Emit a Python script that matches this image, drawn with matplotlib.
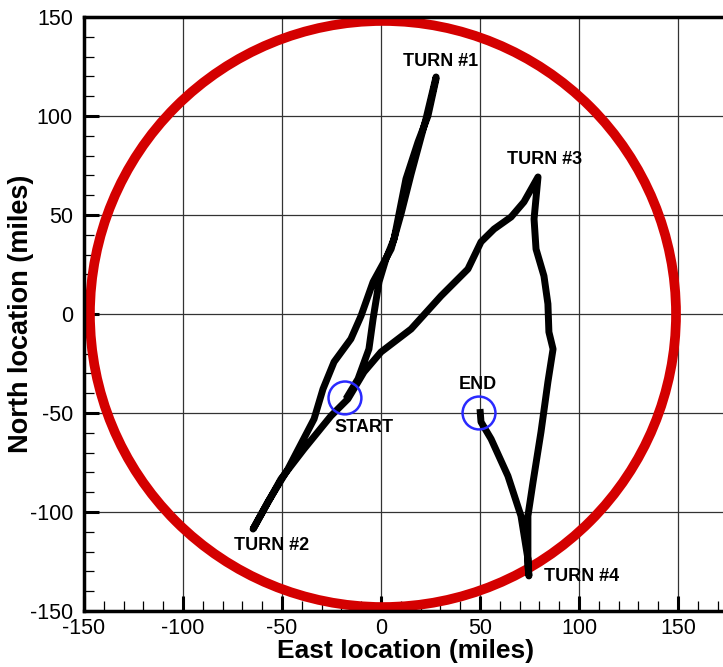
import matplotlib
matplotlib.use("Agg")
import matplotlib.pyplot as plt
from matplotlib.patches import Circle
from matplotlib.ticker import MultipleLocator

plt.rcParams['font.family'] = ['Liberation Sans', 'DejaVu Sans']
plt.rcParams['axes.unicode_minus'] = False

# Flight track (east, north) in miles
track_east = [-17.7, -11.6, -6.1, -4.0, -1.0, 2.5, 6.6, 8.6, 12.6, 18.7, 23.7, 27.8,
              27.8, 22.7, 15.2, 10.1, 5.1, -4.0, -10.1, -15.2, -23.7, -29.3, -33.8, -47.0, -57.1, -64.6,
              -64.6, -50.5, -38.9, -25.3, -16.7, -8.6, 0.0, 15.2, 30.3, 43.9, 50.5, 57.1, 65.7, 72.2, 79.3,
              77.3, 78.3, 82.3, 84.3, 84.8, 86.9, 84.3, 80.8, 76.8, 74.2, 74.2, 74.7,
              74.2, 70.7, 64.1, 55.6, 50.5, 50.0]
track_north = [-42.9, -32.8, -17.7, -2.5, 16.2, 27.8, 37.9, 48.0, 68.2, 86.9, 100.0, 118.7,
               119.7, 98.5, 70.7, 50.5, 32.8, 16.2, -1.0, -12.6, -24.2, -37.9, -53.0, -78.3, -94.9, -108.6,
               -108.6, -83.3, -68.2, -51.5, -42.9, -29.3, -19.2, -7.6, 9.1, 22.7, 36.4, 42.9, 49.0, 56.6, 69.2,
               48.0, 32.8, 19.2, 5.1, -9.1, -17.7, -34.3, -59.6, -84.8, -102.0, -127.3, -132.3,
               -123.7, -102.0, -81.8, -63.1, -54.5, -48.0]

# Boundary circle
boundary_center = (1.0, 0.0)
boundary_radius = 148.0

# Marker circles
marker_centers = [(-18.2, -42.4), (49.5, -50.0)]
marker_radius = 8.3

# Labels
label_texts = ["TURN #1", "TURN #2", "TURN #3", "TURN #4", "START", "END"]
label_x = [30.0, -55.5, 82.5, 101.5, -8.6, 49.0]
label_y = [127.5, -117.0, 78.0, -132.8, -57.5, -35.5]

W, H = 723, 667
fig = plt.figure(figsize=(W / 100, H / 100), dpi=100)
left_px, bottom_px, top_px = 84, 611, 17
xmin, xmax = -150, 175
ppu = (611 - 17) / 300.0
ax = fig.add_axes([left_px / W, (H - bottom_px) / H,
                   (xmax - xmin) * ppu / W, (bottom_px - top_px) / H])
ax.set_xlim(xmin, xmax)
ax.set_ylim(-150, 150)

ax.grid(True, which='major', color='#333333', linewidth=0.9)
ax.set_axisbelow(True)

ax.add_patch(Circle(boundary_center, boundary_radius, fill=False,
                    edgecolor='#d40000', linewidth=7.0, zorder=2))
ax.plot(track_east, track_north, color='black', linewidth=5.0,
        solid_capstyle='butt', solid_joinstyle='round', zorder=3)
for c in marker_centers:
    ax.add_patch(Circle(c, marker_radius, fill=False, edgecolor='#2a2aff',
                        linewidth=1.8, zorder=4))
for t, x, y in zip(label_texts, label_x, label_y):
    ax.text(x, y, t, ha='center', va='center', fontsize=13,
            fontweight='bold', color='black', zorder=5)

ax.xaxis.set_major_locator(MultipleLocator(50))
ax.xaxis.set_minor_locator(MultipleLocator(10))
ax.yaxis.set_major_locator(MultipleLocator(50))
ax.yaxis.set_minor_locator(MultipleLocator(10))
ax.tick_params(which='major', direction='in', length=11, width=2.2,
               labelsize=15.5)
ax.tick_params(axis='x', which='major', pad=5)
ax.tick_params(axis='y', which='major', pad=8)
ax.tick_params(which='minor', direction='in', length=7, width=0.9)
ax.tick_params(top=False, right=False, which='both')
for s in ['left', 'bottom', 'top']:
    ax.spines[s].set_linewidth(2.5)
ax.spines['right'].set_visible(False)

ax.set_xlabel('East location (miles)', fontsize=19, fontweight='bold', labelpad=0)
ax.set_ylabel('North location (miles)', fontsize=19.5, fontweight='bold', labelpad=-3)

fig.savefig('out.png', dpi=100)
